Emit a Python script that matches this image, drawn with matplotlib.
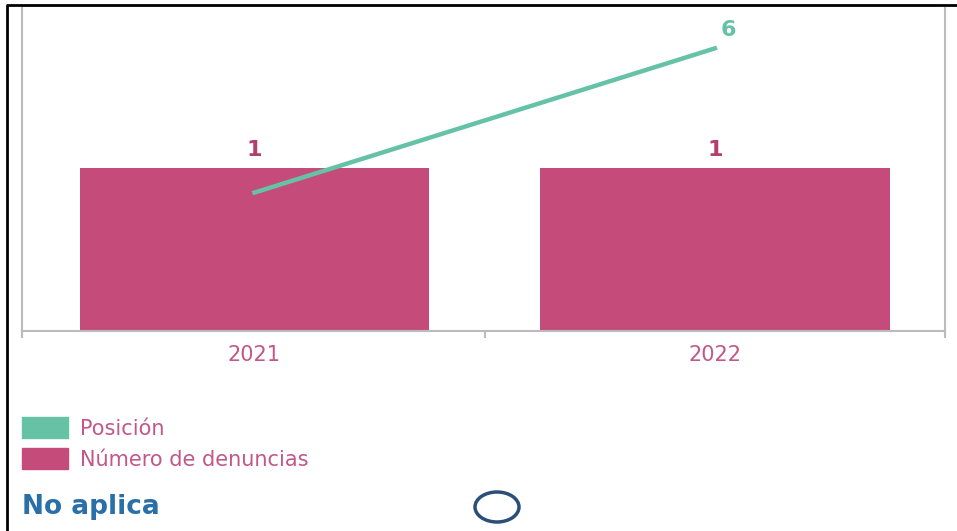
import matplotlib.pyplot as plt
from matplotlib.patches import Patch, Ellipse
from matplotlib.lines import Line2D

# datos
years = ["2021", "2022"]
denuncias = [1, 1]
posicion = [5, 6]

pink = "#C44B7A"
teal = "#66C2A5"
label_pink = "#C2578A"
font = "DejaVu Sans"

fig = plt.figure(figsize=(9.57, 5.31), dpi=100)
ax = fig.add_axes([22 / 957, 200 / 531, 923 / 957, 323 / 531])

x = list(range(len(years)))
ax.bar(x, denuncias, width=0.76, color=pink, zorder=2)
ax.set_xlim(-0.505, 1.5)
ax.set_ylim(0, 1.98)
for xi, v in zip(x, denuncias):
    ax.text(xi, v + 0.05, str(v), ha="center", va="bottom", color="#B23F6C",
            fontsize=16, fontweight="bold", family=font)

ax.set_xticks(x)
ax.set_xticklabels(years, color=label_pink, fontsize=15, family=font)
ax.tick_params(axis="x", which="major", length=0, pad=10)
ax.set_xticks([-0.505, 0.5, 1.5], minor=True)
ax.tick_params(axis="x", which="minor", length=5, color="#BBBBBB", width=1.5)
ax.set_yticks([])
ax.spines["top"].set_visible(False)
for s in ["left", "right", "bottom"]:
    ax.spines[s].set_color("#BBBBBB")
    ax.spines[s].set_linewidth(1.5)

# eje secundario para la posición
ax2 = ax.twinx()
ax2.plot(x, posicion, color=teal, lw=3.2, zorder=3)
ax2.set_ylim(4.04, 6.28)
ax2.set_yticks([])
for s in ax2.spines.values():
    s.set_visible(False)
ax2.text(x[-1] + 0.03, posicion[-1] + 0.06, str(posicion[-1]), ha="center", va="bottom",
         color=teal, fontsize=16, fontweight="bold", family=font)

# leyenda
handles = [Patch(color=teal, label="Posición"), Patch(color=pink, label="Número de denuncias")]
fig.legend(handles=handles, loc="upper left", bbox_to_anchor=(22 / 957, 1 - 417 / 531),
           frameon=False, labelcolor=label_pink, handlelength=2.2,
           handleheight=1.2, handletextpad=0.6, labelspacing=0.45,
           borderpad=0, borderaxespad=0,
           prop={"family": font, "size": 15})

fig.text(22 / 957, 1 - 507 / 531, "No aplica", color="#2A6FA8", fontsize=19,
         fontweight="bold", va="center", family=font)
fig.add_artist(Ellipse((497 / 957, 1 - 507 / 531), 44 / 957, 30 / 531,
                       transform=fig.transFigure, fill=False,
                       edgecolor="#2B4F78", lw=2.5))

# marco negro (izquierda y arriba)
fig.add_artist(Line2D([7 / 957, 7 / 957, 1], [0, 1 - 5 / 531, 1 - 5 / 531],
                      transform=fig.transFigure, color="black", lw=2))

fig.savefig("out.png", dpi=100)
